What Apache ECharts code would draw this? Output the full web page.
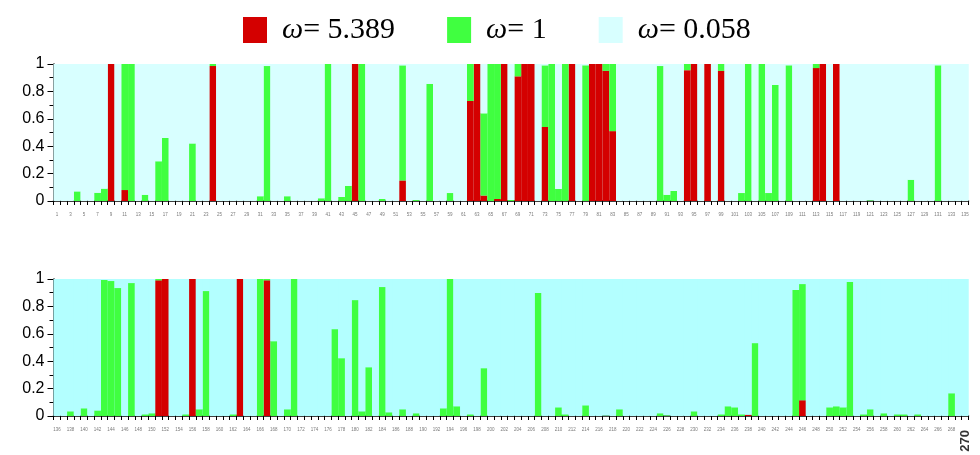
<!DOCTYPE html>
<html>
<head>
<meta charset="utf-8">
<script src="https://cdn.jsdelivr.net/npm/echarts@6/dist/echarts.min.js"></script>
<style>
  html, body { margin: 0; padding: 0; background: #ffffff; }
  #chart { width: 980px; height: 455px; }
</style>
</head>
<body>
<div id="chart"></div>
<script>
// Posterior probability of each site-class (omega) per codon site.
// Sites 1-135 are shown in the upper panel, 136-270 in the lower one.
const omegaValues = ['5.389', '1', '0.058'];
const classNames = omegaValues.map(w => 'ω= ' + w);

const sitesTop = [];
const sitesBottom = [];
for (let i = 1; i <= 135; i++) sitesTop.push(String(i));
for (let i = 136; i <= 270; i++) sitesBottom.push(String(i));

const yTicks = [0, 0.2, 0.4, 0.6, 0.8, 1];

// omega = 5.389 (sites 1-135)
const highTop = [
  0, 0, 0, 0, 0, 0, 0, 0, 1, 0,
  0.08, 0, 0, 0, 0, 0, 0, 0, 0, 0,
  0, 0, 0, 0.985, 0, 0, 0, 0, 0, 0,
  0, 0, 0, 0, 0, 0, 0, 0, 0, 0,
  0, 0, 0, 0, 1, 0, 0, 0, 0, 0,
  0, 0.15, 0, 0, 0, 0, 0, 0, 0, 0,
  0, 0.73, 1, 0.04, 0, 0.015, 1, 0, 0.91, 1,
  1, 0, 0.54, 0, 0, 0, 1, 0, 0, 1,
  1, 0.95, 0.51, 0, 0, 0, 0, 0, 0, 0,
  0, 0, 0, 0.955, 1, 0, 1, 0, 0.95, 0,
  0, 0, 0, 0, 0, 0, 0, 0, 0, 0,
  0, 0, 0.97, 1, 0, 1, 0, 0, 0, 0,
  0, 0, 0, 0, 0, 0, 0, 0, 0, 0,
  0, 0, 0, 0, 0
];

// omega = 1 (sites 1-135)
const neutralTop = [
  0, 0, 0, 0.07, 0, 0, 0.06, 0.09, 0, 0,
  0.92, 1, 0, 0.045, 0, 0.29, 0.46, 0, 0, 0,
  0.42, 0, 0, 0.015, 0, 0, 0, 0, 0, 0,
  0.035, 0.985, 0, 0, 0.035, 0, 0, 0, 0, 0.02,
  1, 0, 0.03, 0.11, 0, 1, 0, 0, 0.015, 0,
  0, 0.84, 0, 0.007, 0, 0.855, 0, 0, 0.058, 0,
  0, 0.27, 0, 0.6, 1, 0.985, 0, 0.007, 0.09, 0,
  0, 0, 0.45, 1, 0.088, 1, 0, 0, 0.99, 0,
  0, 0.05, 0.49, 0, 0, 0, 0, 0, 0, 0.985,
  0.045, 0.073, 0, 0.045, 0, 0, 0, 0, 0.05, 0,
  0, 0.058, 1, 0, 1, 0.058, 0.847, 0, 0.99, 0,
  0, 0, 0.03, 0, 0, 0, 0, 0, 0, 0,
  0.005, 0, 0, 0, 0, 0, 0.155, 0, 0, 0,
  0.99, 0, 0, 0, 0
];

// omega = 5.389 (sites 136-270)
const highBottom = [
  0, 0, 0, 0, 0, 0, 0, 0, 0, 0,
  0, 0, 0, 0, 0, 0.99, 1, 0, 0, 0,
  1, 0, 0, 0, 0, 0, 0, 1, 0, 0,
  0, 0.99, 0, 0, 0, 0, 0, 0, 0, 0,
  0, 0, 0, 0, 0, 0, 0, 0, 0, 0,
  0, 0, 0, 0, 0, 0, 0, 0, 0, 0,
  0, 0, 0, 0, 0, 0, 0, 0, 0, 0,
  0, 0, 0, 0, 0, 0, 0, 0, 0, 0,
  0, 0, 0, 0, 0, 0, 0, 0, 0, 0,
  0, 0, 0, 0, 0, 0, 0, 0, 0, 0,
  0, 0, 0.01, 0, 0, 0, 0, 0, 0, 0,
  0.115, 0, 0, 0, 0, 0, 0, 0, 0, 0,
  0, 0, 0, 0, 0, 0, 0, 0, 0, 0,
  0, 0, 0, 0, 0
];

// omega = 1 (sites 136-270)
const neutralBottom = [
  0, 0, 0.034, 0, 0.056, 0, 0.041, 0.993, 0.985, 0.934,
  0, 0.97, 0, 0.012, 0.02, 0.01, 0, 0, 0, 0.012,
  0, 0.049, 0.912, 0, 0, 0, 0.012, 0, 0, 0,
  1, 0.01, 0.546, 0, 0.049, 1, 0, 0, 0, 0,
  0, 0.634, 0.422, 0, 0.846, 0.034, 0.356, 0, 0.941, 0.027,
  0, 0.049, 0, 0.02, 0, 0, 0, 0.056, 1, 0.071,
  0, 0.012, 0, 0.349, 0, 0, 0, 0, 0, 0,
  0, 0.898, 0, 0, 0.063, 0.012, 0, 0, 0.078, 0,
  0, 0.003, 0, 0.049, 0, 0, 0, 0, 0, 0.02,
  0.005, 0, 0, 0, 0.034, 0, 0, 0, 0.012, 0.071,
  0.063, 0.012, 0, 0.532, 0, 0, 0, 0, 0, 0.92,
  0.848, 0, 0, 0, 0.063, 0.071, 0.063, 0.978, 0, 0.012,
  0.049, 0, 0.02, 0, 0.012, 0.012, 0, 0.012, 0, 0,
  0, 0, 0.166, 0, 0
];

// the purifying class takes whatever probability is left at each site
const remainder = (a, b) => a.map((v, i) => Math.max(0, +(1 - v - b[i]).toFixed(4)));
const purifyingTop = remainder(highTop, neutralTop);
const purifyingBottom = remainder(highBottom, neutralBottom);

const RED = '#d40000';
const GREEN = '#40ff40';
const CYAN_TOP = '#d8ffff';
const CYAN_BOTTOM = '#b3ffff';

const grids = [
  { left: 53.5, right: 11.5, top: 64, height: 137, show: true, backgroundColor: CYAN_TOP, borderWidth: 0 },
  { left: 53.5, right: 11.5, top: 279, height: 137, show: true, backgroundColor: CYAN_BOTTOM, borderWidth: 0 }
];

function siteAxis(gridIndex, cats, lastHidden) {
  return {
    type: 'category',
    gridIndex: gridIndex,
    data: cats,
    boundaryGap: true,
    axisLine: { show: true, lineStyle: { color: '#000', width: 1.5 } },
    axisTick: { show: true, interval: 0, length: 4, lineStyle: { color: '#000', width: 1 } },
    axisLabel: {
      interval: 1,
      fontSize: 4.5,
      color: '#7a7a7a',
      margin: 11,
      formatter: (v, idx) => (lastHidden && idx === cats.length - 1) ? '' : v
    },
    splitLine: { show: false }
  };
}

function probAxis(gridIndex) {
  return {
    type: 'value',
    gridIndex: gridIndex,
    min: 0,
    max: 1,
    interval: 0.2,
    axisLine: { show: true, lineStyle: { color: '#000', width: 1.5 } },
    axisTick: { show: true, length: 6, lineStyle: { color: '#000' } },
    minorTick: { show: true, splitNumber: 2, length: 4, lineStyle: { color: '#000' } },
    axisLabel: {
      fontSize: 16,
      color: '#000',
      fontFamily: 'Liberation Sans, Arial, sans-serif',
      margin: 9,
      formatter: v => {
        const t = yTicks.find(k => Math.abs(k - v) < 1e-9);
        return t === undefined ? '' : String(t);
      }
    },
    splitLine: { show: false }
  };
}

function barSeries(name, data, color, axisIdx, stack) {
  return {
    type: 'bar',
    name: name,
    data: data,
    xAxisIndex: axisIdx,
    yAxisIndex: axisIdx,
    stack: stack,
    barCategoryGap: '0%',
    barGap: '0%',
    itemStyle: { color: color },
    emphasis: { disabled: true },
    animation: false
  };
}

const option = {
  animation: false,
  backgroundColor: '#ffffff',
  legend: {
    left: 238,
    top: 10,
    itemWidth: 24,
    itemHeight: 26,
    itemGap: 52,
    icon: 'rect',
    data: classNames,
    selectedMode: false,
    formatter: n => '{w|ω}{t|' + n.slice(1) + '}',
    textStyle: {
      padding: [0, 0, 0, 10],
      rich: {
        w: { fontFamily: 'Liberation Serif, Times New Roman, serif', fontStyle: 'italic', fontSize: 30, color: '#000' },
        t: { fontFamily: 'Liberation Serif, Times New Roman, serif', fontSize: 30, color: '#000' }
      }
    }
  },
  grid: grids,
  xAxis: [
    siteAxis(0, sitesTop, false),
    siteAxis(1, sitesBottom, true),
    {
      // carries only the closing site number under the lower panel
      type: 'category',
      gridIndex: 1,
      data: sitesBottom,
      position: 'bottom',
      axisLine: { show: false },
      axisTick: { show: false },
      splitLine: { show: false },
      axisLabel: {
        interval: 0,
        rotate: 90,
        margin: 14,
        fontSize: 13,
        fontWeight: 'bold',
        color: '#333',
        fontFamily: 'Liberation Sans, Arial, sans-serif',
        formatter: (v, idx) => idx === sitesBottom.length - 1 ? v : ''
      }
    }
  ],
  yAxis: [probAxis(0), probAxis(1)],
  series: [
    barSeries(classNames[0], highTop, RED, 0, 'upper'),
    barSeries(classNames[1], neutralTop, GREEN, 0, 'upper'),
    barSeries(classNames[2], purifyingTop, CYAN_TOP, 0, 'upper'),
    barSeries(classNames[0], highBottom, RED, 1, 'lower'),
    barSeries(classNames[1], neutralBottom, GREEN, 1, 'lower'),
    barSeries(classNames[2], purifyingBottom, CYAN_BOTTOM, 1, 'lower')
  ]
};

const chart = echarts.init(document.getElementById('chart'), null, { renderer: 'canvas' });
chart.setOption(option);
</script>
</body>
</html>
